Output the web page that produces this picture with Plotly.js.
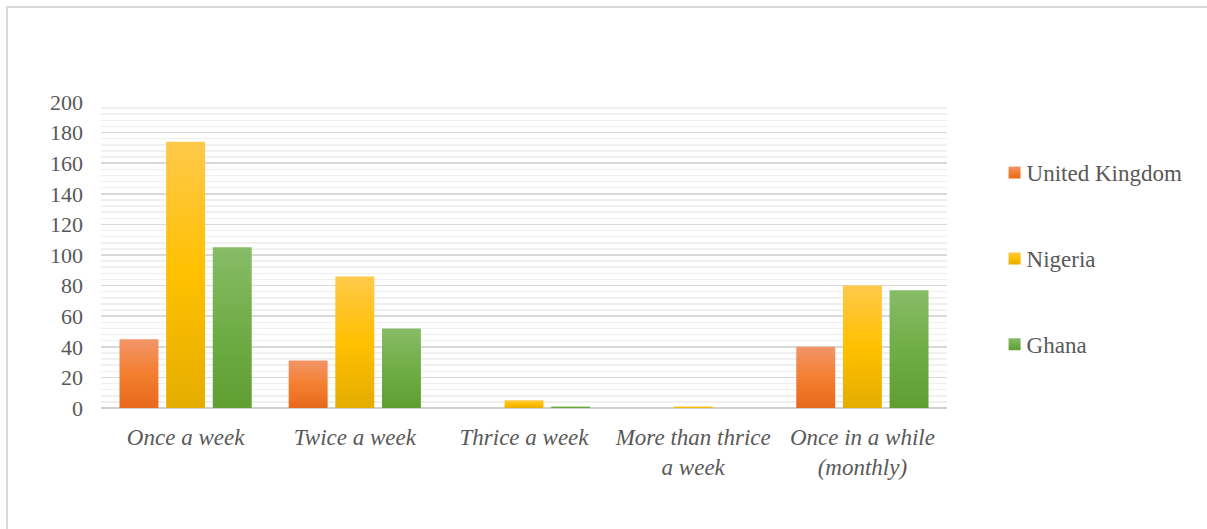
<!DOCTYPE html>
<html>
<head>
<meta charset="utf-8">
<script src="https://cdn.plot.ly/plotly-3.0.1.min.js"></script>
<style>
  html, body { margin: 0; padding: 0; background: #ffffff; }
  #chart { position: absolute; left: 0; top: 0; width: 1207px; height: 529px; }
  #frame {
    position: absolute; left: 6px; top: 6px; width: 1300px; height: 600px;
    border-top: 2px solid #d9d9d9; border-left: 2px solid #d9d9d9;
    background: transparent; pointer-events: none; z-index: 5;
  }
</style>
</head>
<body>
<div id="chart"></div>
<div id="frame"></div>
<script>
// Frequency categories shown along the x axis
const categories = [
  'Once a week',
  'Twice a week',
  'Thrice a week',
  'More than thrice<br>a week',
  'Once in a while<br>(monthly)'
];

// Respondent counts per country
const ukValues      = [45, 31, 0, 0, 40];
const nigeriaValues = [174, 86, 5, 1, 80];
const ghanaValues   = [105, 52, 1, 0, 77];

const seriesNames = ['United Kingdom', 'Nigeria', 'Ghana'];

// Base colour plus top/bottom gradient stops for each series
const palette = [
  { base: '#F47F30', top: '#F2956A', bottom: '#E8691B', id: 'gradUK' },
  { base: '#FFC000', top: '#FFC94A', bottom: '#E5AD00', id: 'gradNG' },
  { base: '#70AD47', top: '#88BC68', bottom: '#609E32', id: 'gradGH' }
];

const allValues = [ukValues, nigeriaValues, ghanaValues];

const traces = allValues.map((vals, i) => ({
  type: 'bar',
  name: seriesNames[i],
  x: categories,
  y: vals,
  legendgroup: 'g' + i,
  marker: { color: palette[i].base, line: { width: 0 } }
}));

const textColor = '#595959';
const fam = 'Liberation Serif, serif';

const layout = {
  width: 1207,
  height: 529,
  font: { family: fam, color: textColor },
  margin: { l: 101, r: 260, t: 102, b: 121 },
  barmode: 'group',
  bargap: 0.173,
  bargroupgap: 0.165,
  showlegend: true,
  legend: {
    x: 0.824, xref: 'container', xanchor: 'left',
    y: 0.7145, yref: 'container', yanchor: 'top',
    font: { family: fam, size: 23, color: textColor },
    tracegroupgap: 53,
    itemwidth: 30
  },
  xaxis: {
    type: 'category',
    showgrid: false,
    showline: false,
    zeroline: false,
    ticks: '',
    tickfont: { family: fam, size: 23, color: textColor, style: 'italic' },
    ticklabelstandoff: 13
  },
  yaxis: {
    range: [0, 200],
    dtick: 20,
    tick0: 0,
    showgrid: true,
    gridcolor: '#d9d9d9',
    gridwidth: 1.5,
    minor: { dtick: 4, showgrid: true, gridcolor: '#f0f0f0', gridwidth: 1.5, ticks: '' },
    zeroline: true,
    zerolinecolor: '#d0d0d0',
    zerolinewidth: 2,
    showline: false,
    ticks: '',
    tickfont: { family: fam, size: 22, color: textColor },
    ticklabelstandoff: 17
  }
};

const gd = document.getElementById('chart');

// Fill bars and legend swatches with a vertical light-to-dark gradient
function decorate() {
  const svg = gd.querySelector('svg.main-svg');
  if (!svg || svg.querySelector('#gradUK')) return;
  const ns = 'http://www.w3.org/2000/svg';
  const defs = document.createElementNS(ns, 'defs');
  svg.appendChild(defs);

  palette.forEach(p => {
    const g = document.createElementNS(ns, 'linearGradient');
    g.setAttribute('id', p.id);
    g.setAttribute('x1', '0'); g.setAttribute('y1', '0');
    g.setAttribute('x2', '0'); g.setAttribute('y2', '1');
    [[0, p.top], [0.5, p.base], [1, p.bottom]].forEach(([o, c]) => {
      const s = document.createElementNS(ns, 'stop');
      s.setAttribute('offset', o);
      s.setAttribute('stop-color', c);
      g.appendChild(s);
    });
    defs.appendChild(g);
  });

  gd.querySelectorAll('.barlayer .trace.bars').forEach((tr, i) => {
    const p = palette[i];
    tr.querySelectorAll('path').forEach(path => {
      path.style.fill = 'url(#' + p.id + ')';
    });
  });

  gd.querySelectorAll('.legend .traces').forEach((tr, i) => {
    const p = palette[i];
    tr.querySelectorAll('.legendpoints path').forEach(path => {
      path.style.fill = 'url(#' + p.id + ')';
      path.style.stroke = 'none';
    });
    const txt = tr.querySelector('.legendtext');
    if (txt) txt.setAttribute('x', '32');
  });
}

Plotly.newPlot(gd, traces, layout, { staticPlot: true }).then(decorate);
</script>
</body>
</html>
